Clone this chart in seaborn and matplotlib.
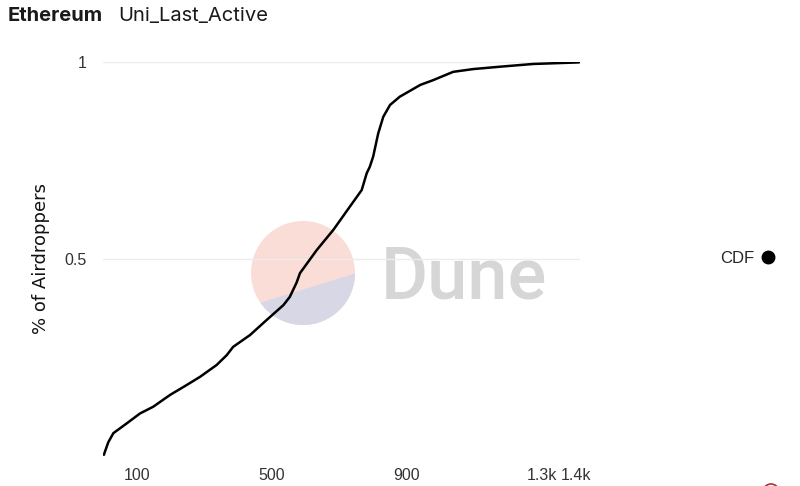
import numpy as np
import pandas as pd
import matplotlib
matplotlib.use("Agg")
import matplotlib.pyplot as plt
from matplotlib.patches import Circle, Polygon
from matplotlib.lines import Line2D
import seaborn as sns

# CDF of days since last Uniswap activity
days = [2, 5, 15, 30, 70, 109, 148, 198, 247, 287, 336, 366, 385, 435, 484,
        534, 553, 573, 583, 633, 682, 731, 766, 781, 790, 800, 815, 830, 850,
        879, 940, 978, 1037, 1096, 1175, 1274, 1410]
cdf = [0.003, 0.011, 0.035, 0.058, 0.083, 0.108, 0.125, 0.155, 0.180, 0.201,
       0.231, 0.256, 0.277, 0.307, 0.345, 0.383, 0.404, 0.440, 0.464, 0.523,
       0.574, 0.633, 0.675, 0.718, 0.734, 0.760, 0.819, 0.861, 0.891, 0.912,
       0.942, 0.954, 0.975, 0.982, 0.988, 0.995, 0.999]
x_ticks = [100, 500, 900, 1300, 1400]
x_tick_labels = ["100", "500", "900", "1.3k", "1.4k"]
y_ticks = [0.5, 1]
y_tick_labels = ["0.5", "1"]

df = pd.DataFrame({"days": days, "cdf": cdf})

sns.set_theme(style="white")
plt.rcParams["font.family"] = ["Liberation Sans", "DejaVu Sans"]

W, H = 800, 486
fig = plt.figure(figsize=(8, 4.86), dpi=100)

# Dune watermark, drawn in pixel space behind the chart
wm = fig.add_axes([0, 0, 1, 1], zorder=0)
wm.set_xlim(0, W)
wm.set_ylim(H, 0)
wm.axis("off")
circ = Circle((303, 273), 52, facecolor="#f9ddd6", edgecolor="none")
wm.add_patch(circ)
low = Polygon([(240, 309), (370, 269), (370, 340), (240, 340)],
              facecolor="#d7d7e6", edgecolor="none")
low.set_clip_path(circ)
wm.add_patch(low)
wm.text(381, 298, "Dune", fontsize=52, color="#d6d6d6", fontweight="medium",
        family="Roboto", va="baseline", ha="left")
# small red ring cut off at the bottom right
wm.add_patch(Circle((771, 492), 8, facecolor="none", edgecolor="#a33", lw=1.2))

ax = fig.add_axes([103.25 / W, 1 - 456 / H, (580 - 103.25) / W, (456 - 62) / H],
                  zorder=1)
ax.patch.set_alpha(0)
sns.lineplot(data=df, x="days", y="cdf", ax=ax, color="black", linewidth=1.8)

ax.set_xlim(0, 1413)
ax.set_ylim(0, 1)
ax.set_xticks(x_ticks)
ax.set_xticklabels(x_tick_labels)
ax.set_yticks(y_ticks)
ax.set_yticklabels(y_tick_labels)
ax.tick_params(axis="both", length=0, labelsize=11.5, colors="#333333")
ax.tick_params(axis="x", pad=9)
ax.tick_params(axis="y", pad=12)
ax.yaxis.grid(True, color="#ececec", linewidth=1)
ax.xaxis.grid(False)
for s in ax.spines.values():
    s.set_visible(False)
ax.set_xlabel("")
ax.set_ylabel("% of Airdroppers", fontsize=13, color="#111111", labelpad=10,
              family="DejaVu Sans")

# title
fig.text(8 / W, 1 - 16 / H, "Ethereum", fontsize=14.5, fontweight="bold",
         family="Inter", color="#1a1a1a", va="center")
fig.text(118 / W, 1 - 16 / H, "Uni_Last_Active", fontsize=14.5,
         family="Inter", color="#1a1a1a", va="center")

# legend
handle = Line2D([], [], color="black", marker="o", linestyle="none", markersize=9)
fig.legend([handle], ["CDF"], loc="center right", bbox_to_anchor=(791 / W, 1 - 258 / H),
           frameon=False, markerfirst=False, fontsize=12, handletextpad=0.3,
           handlelength=1.0)

fig.savefig("out.png", dpi=100)
